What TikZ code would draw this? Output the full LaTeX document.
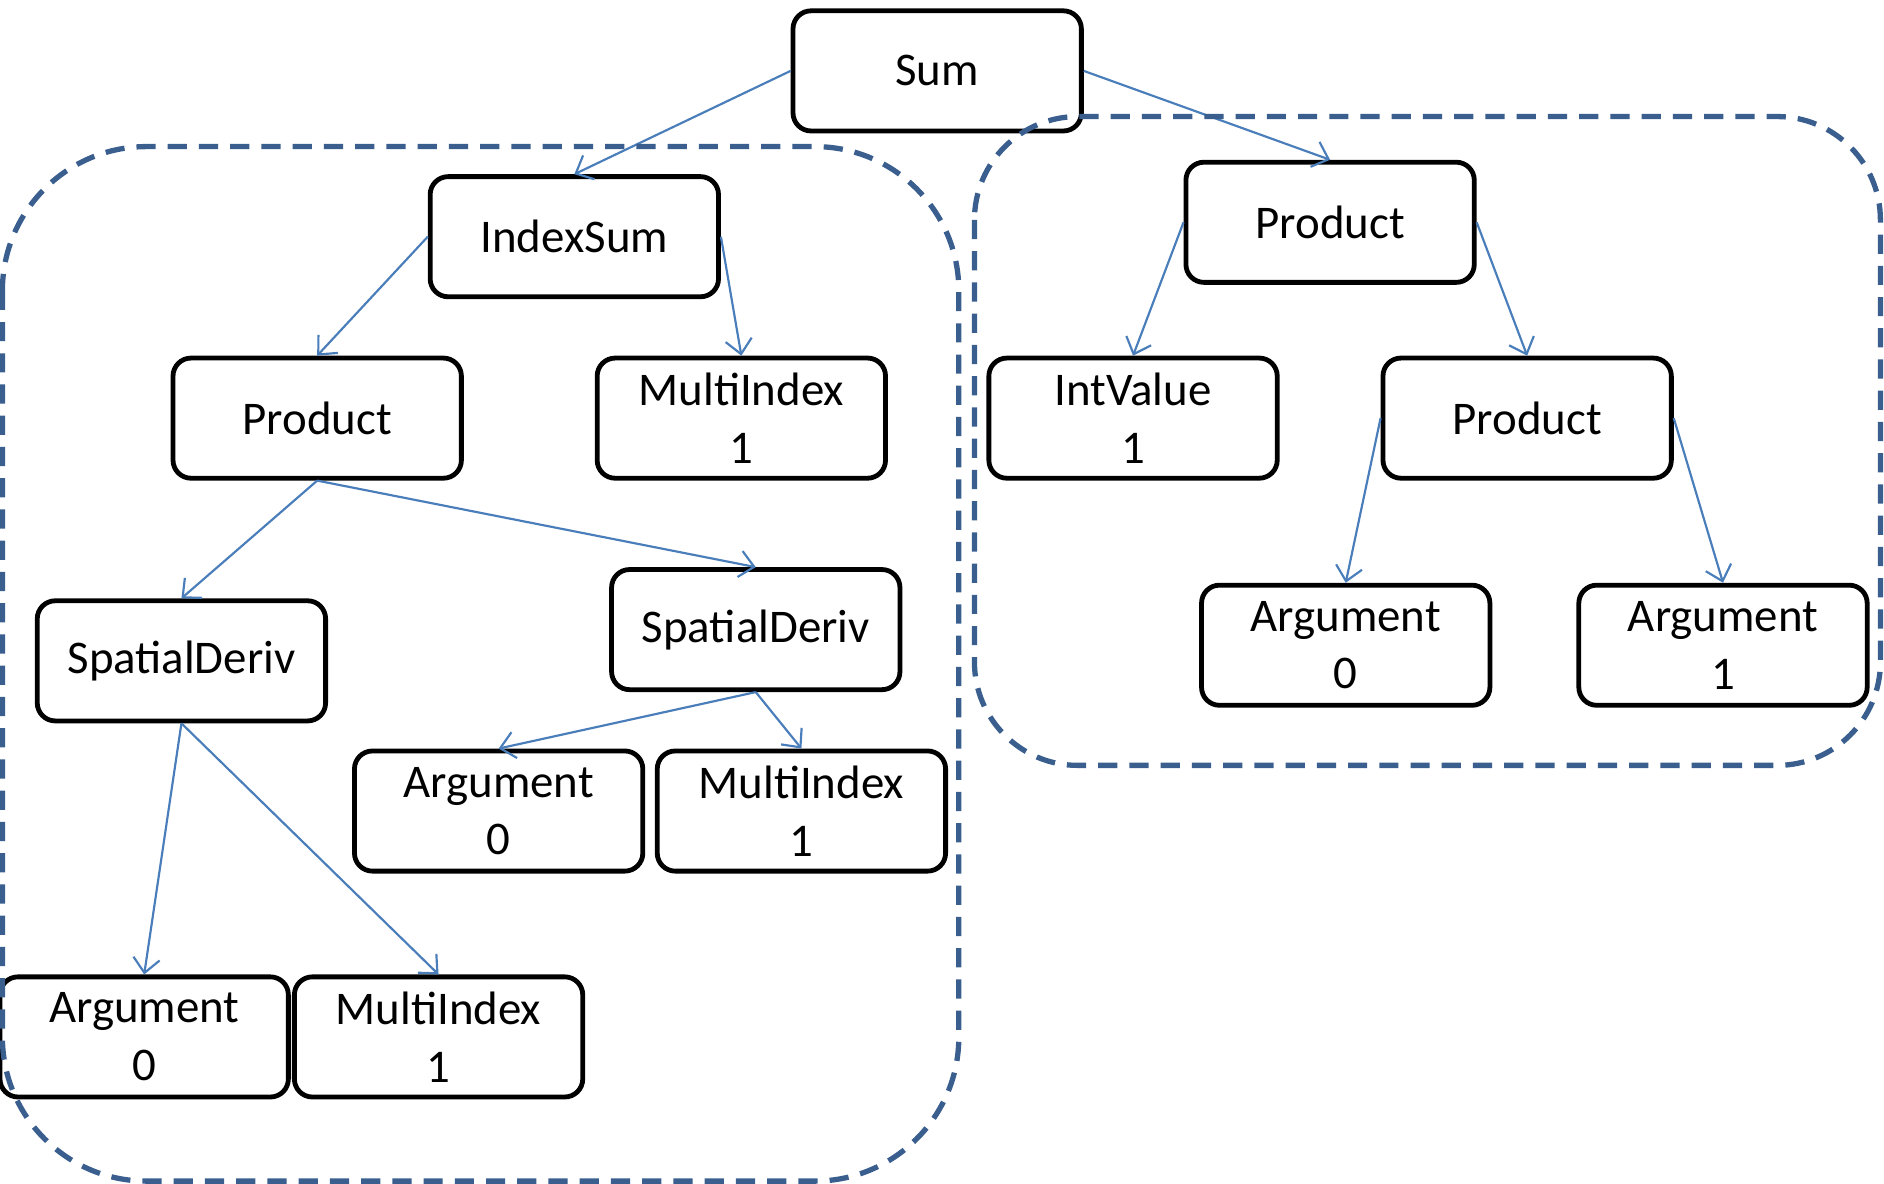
\documentclass[tikz,border=0pt]{standalone}
\usepackage{fontspec}
\setmainfont{Carlito}
\usetikzlibrary{arrows.meta}
\definecolor{linkblue}{HTML}{4A7EBB}
\definecolor{groupblue}{HTML}{3A5F8F}
\begin{document}
\begin{tikzpicture}[x=0.5pt,y=-0.5pt,
  box/.style={draw=black,line width=2pt,rounded corners=7.5pt,minimum width=120pt,
    minimum height=50pt,inner sep=0pt,align=center,font=\fontsize{19.5}{24}\selectfont},
  link/.style={draw=linkblue,line width=0.9pt,-{Straight Barb[length=6pt,width=11pt]}},
  group/.style={draw=groupblue,line width=2.2pt,dash pattern=on 8pt off 5pt}]
\useasboundingbox (0,0) rectangle (1568,985);

% expression tree nodes
\node[box] (sum)   at (780,59)  {Sum};
\node[box] (isum)  at (478,197) {IndexSum};
\node[box] (prodL) at (264,348) {Product};
\node[box] (miA)   at (617,348) {MultiIndex\\1};
\node[box] (sdL)   at (151,550) {SpatialDeriv};
\node[box] (sdR)   at (629,524) {SpatialDeriv};
\node[box] (argA)  at (415,675) {Argument\\0};
\node[box] (miB)   at (667,675) {MultiIndex\\1};
\node[box] (argB)  at (120,863) {Argument\\0};
\node[box] (miC)   at (365,863) {MultiIndex\\1};
\node[box] (prodT) at (1107,185) {Product};
\node[box] (ival)  at (943,348) {IntValue\\1};
\node[box] (prodR) at (1271,348) {Product};
\node[box] (arg0)  at (1120,537) {Argument\\0};
\node[box] (arg1)  at (1434,537) {Argument\\1};

% edges
\draw[link] (sum.west) -- (isum.north);
\draw[link] (sum.east) -- (prodT.north);
\draw[link] (isum.west) -- (prodL.north);
\draw[link] (isum.east) -- (miA.north);
\draw[link] (prodL.south) -- (sdL.north);
\draw[link] (prodL.south) -- (sdR.north);
\draw[link] (sdR.south) -- (argA.north);
\draw[link] (sdR.south) -- (miB.north);
\draw[link] (sdL.south) -- (argB.north);
\draw[link] (sdL.south) -- (miC.north);
\draw[link] (prodT.west) -- (ival.north);
\draw[link] (prodT.east) -- (prodR.north);
\draw[link] (prodR.west) -- (arg0.north);
\draw[link] (prodR.east) -- (arg1.north);

% dashed groupings
\draw[group,rounded corners=60pt] (2,122) rectangle (798,983);
\draw[group,rounded corners=43pt] (811,97) rectangle (1565,637);
\end{tikzpicture}
\end{document}
